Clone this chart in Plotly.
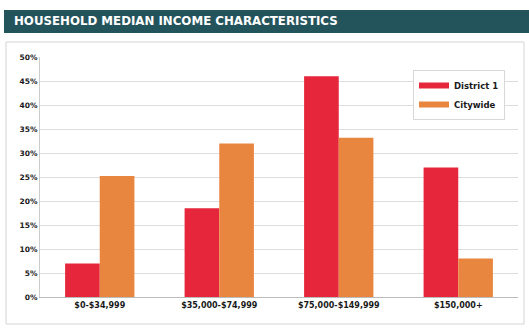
import plotly.graph_objects as go

# Household median income brackets and share of households in each
categories = ["$0-$34,999", "$35,000-$74,999", "$75,000-$149,999", "$150,000+"]
district_1 = [7.0, 18.5, 46.0, 27.0]
citywide = [25.2, 32.0, 33.2, 8.0]
series_names = ["District 1", "Citywide"]
series_colors = ["#E5263B", "#E8853F"]
y_ticks = list(range(0, 55, 5))
y_tick_text = [f"{v}%" for v in y_ticks]

W, H = 529, 328
L, R, T, B = 40, 11, 57, 31
PW, PH = W - L - R, H - T - B


def px_x(px):
    return (px - L) / PW


def px_y(py):
    return (H - B - py) / PH


FONT = "DejaVu Sans"

fig = go.Figure()
for name, values, color in zip(series_names, [district_1, citywide], series_colors):
    fig.add_trace(go.Bar(
        x=categories, y=values, name=name, showlegend=False,
        marker=dict(color=color, line=dict(width=0)),
    ))
# legend keys drawn as wide flat swatches
for name, color in zip(series_names, series_colors):
    fig.add_trace(go.Scatter(
        x=[None], y=[None], name=name, mode="lines",
        line=dict(color=color, width=6),
    ))

shapes = [
    # header band
    dict(type="rect", xref="paper", yref="paper",
         x0=px_x(4), x1=px_x(530), y0=px_y(33), y1=px_y(10),
         fillcolor="#24545B", line=dict(width=0), layer="below"),
    # chart frame
    dict(type="rect", xref="paper", yref="paper",
         x0=px_x(6), x1=px_x(524), y0=px_y(324), y1=px_y(42),
         fillcolor="rgba(0,0,0,0)", line=dict(color="#D4D4D4", width=1), layer="below"),
]

fig.update_layout(
    width=W, height=H,
    margin=dict(l=L, r=R, t=T, b=B),
    paper_bgcolor="white", plot_bgcolor="white",
    barmode="group", bargap=0.42, bargroupgap=0,
    showlegend=True,
    legend=dict(
        x=px_x(413), y=px_y(70), xanchor="left", yanchor="top",
        bgcolor="white", bordercolor="#D8D8D8", borderwidth=1,
        font=dict(family=FONT, size=8.5, color="#1a1a1a", weight="bold"),
        itemwidth=30,
    ),
    shapes=shapes,
    annotations=[dict(
        text="<b>HOUSEHOLD MEDIAN INCOME CHARACTERISTICS</b>",
        xref="paper", yref="paper", x=px_x(12), y=px_y(21.5),
        xanchor="left", yanchor="middle", showarrow=False,
        font=dict(family=FONT, size=11.8, color="white"),
    )],
    xaxis=dict(
        showgrid=False, showline=True, linecolor="#BBBBBB", linewidth=1,
        ticks="", tickfont=dict(family=FONT, size=8, color="#1a1a1a", weight="bold"),
    ),
    yaxis=dict(
        range=[0, 50], tickvals=y_ticks, ticktext=y_tick_text,
        showgrid=True, gridcolor="#DDDDDD", gridwidth=1,
        showline=True, linecolor="#CCCCCC", linewidth=1,
        zeroline=False, ticks="",
        tickfont=dict(family=FONT, size=7.5, color="#1a1a1a", weight="bold"),
    ),
)

fig.write_html("out.html")
